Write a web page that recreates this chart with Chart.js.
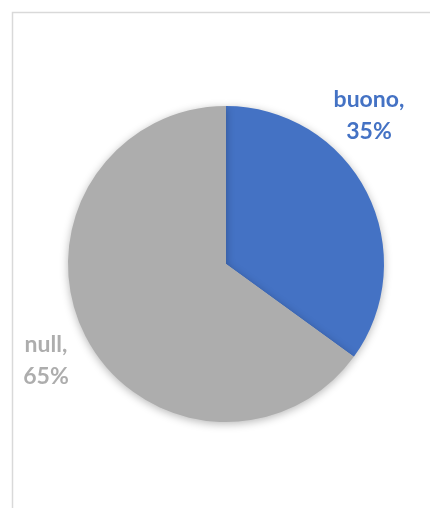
<!DOCTYPE html>
<html>
<head>
<meta charset="utf-8">
<script src="https://cdn.jsdelivr.net/npm/chart.js@4"></script>
<style>
  html, body { margin: 0; padding: 0; background: #fff; }
  #wrap { width: 430px; height: 508px; position: relative; }
</style>
</head>
<body>
<div id="wrap"><canvas id="myChart"></canvas></div>
<script>
// data
const categories = ['buono', 'null'];
const shares = [35, 65];
const colours = ['#4472C4', '#ADADAD'];

// where each label sits (x, y of first line)
const label_pos = [
  { x: 369, y: 107 },
  { x: 46, y: 352 }
];

// frame + shadow + labels
const office_look = {
  id: 'office_look',
  beforeDraw: (chart) => {
    const ctx = chart.ctx;
    ctx.save();
    ctx.strokeStyle = '#d9d9d9';
    ctx.lineWidth = 1.5;
    ctx.strokeRect(12.5, 12.5, 600, 600);
    ctx.restore();
  },
  beforeDatasetDraw: (chart) => {
    const ctx = chart.ctx;
    ctx.save();
    ctx.shadowColor = 'rgba(0,0,0,0.28)';
    ctx.shadowBlur = 9;
    ctx.shadowOffsetY = 2;
  },
  afterDatasetDraw: (chart) => {
    chart.ctx.restore();
  },
  afterDraw: (chart) => {
    const ctx = chart.ctx;
    ctx.save();
    ctx.font = 'bold 23px Lato';
    ctx.textAlign = 'center';
    ctx.textBaseline = 'alphabetic';
    categories.forEach((cat, i) => {
      const p = label_pos[i];
      ctx.fillStyle = colours[i];
      ctx.fillText(cat + ',', p.x, p.y);
      ctx.fillText(shares[i] + '%', p.x, p.y + 32);
    });
    ctx.restore();
  }
};

const pieChart = new Chart(document.getElementById('myChart'), {
  type: 'pie',
  data: {
    labels: categories,
    datasets: [{
      data: shares,
      backgroundColor: colours,
      borderWidth: 0
    }]
  },
  options: {
    responsive: true,
    maintainAspectRatio: false,
    animation: false,
    layout: {
      padding: { left: 68, right: 46, top: 106, bottom: 86 }
    },
    plugins: {
      legend: { display: false },
      tooltip: { enabled: false }
    }
  },
  plugins: [office_look]
});
</script>
</body>
</html>
